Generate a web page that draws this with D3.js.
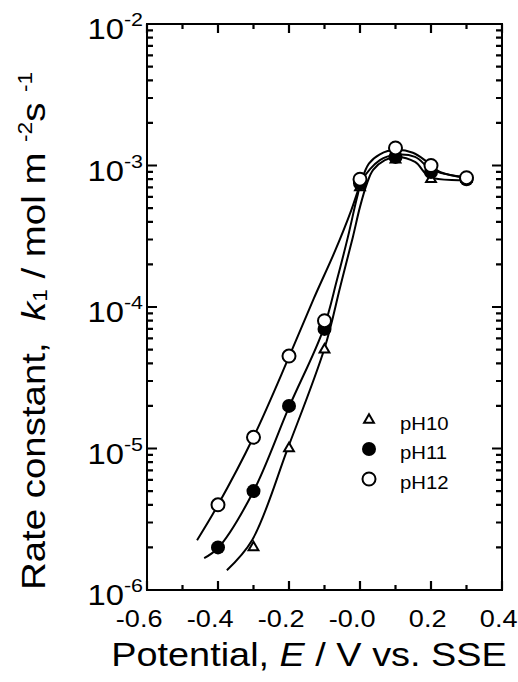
<!DOCTYPE html>
<html>
<head>
<meta charset="utf-8">
<script src="https://cdn.jsdelivr.net/npm/d3@7"></script>
<style>
body { margin: 0; background: #fff; }
text { font-family: "Liberation Sans", Arial, sans-serif; fill: #000; }
</style>
</head>
<body>
<div id="chart"></div>
<script>
// tick values / labels
const xMajor = [-0.6, -0.4, -0.2, 0.0, 0.2, 0.4];
const xMinor = [-0.5, -0.3, -0.1, 0.1, 0.3];
const xLabels = ["-0.6", "-0.4", "-0.2", "-0.0", "0.2", "0.4"];
const yMajor = [1e-6, 1e-5, 1e-4, 1e-3, 1e-2];
const yExp = ["-6", "-5", "-4", "-3", "-2"];

// measured points
const pH10x = [-0.3, -0.2, -0.1, 0.0, 0.1, 0.2, 0.3];
const pH10y = [2e-6, 1e-5, 5e-5, 7e-4, 1.1e-3, 8e-4, 8e-4];
const pH11x = [-0.4, -0.3, -0.2, -0.1, 0.0, 0.1, 0.2, 0.3];
const pH11y = [2e-6, 5e-6, 2e-5, 7e-5, 7.5e-4, 1.15e-3, 9e-4, 8e-4];
const pH12x = [-0.4, -0.3, -0.2, -0.1, 0.0, 0.1, 0.2, 0.3];
const pH12y = [4e-6, 1.2e-5, 4.5e-5, 8e-5, 8e-4, 1.33e-3, 1e-3, 8.2e-4];

// fitted curves
const fit10x = [-0.375, -0.304, -0.203, -0.099, -0.056, -0.02, 0.0, 0.02, 0.037, 0.07, 0.104, 0.155, 0.197, 0.3];
const fit10y = [1.38e-6, 2.25e-6, 1.01e-5, 5.2e-5, 1.38e-4, 3.13e-4, 5.1e-4, 7.5e-4, 9.3e-4, 1.09e-3, 1.15e-3, 1.06e-3, 8.3e-4, 7.9e-4];
const fit11x = [-0.439, -0.4, -0.301, -0.2, -0.104, -0.065, -0.034, -0.008, 0.006, 0.056, 0.101, 0.155, 0.203, 0.3];
const fit11y = [1.68e-6, 1.98e-6, 4.93e-6, 1.96e-5, 6.87e-5, 1.55e-4, 3.13e-4, 5.98e-4, 7.9e-4, 1.09e-3, 1.19e-3, 1.15e-3, 9.3e-4, 8.2e-4];
const fit12x = [-0.459, -0.403, -0.301, -0.2, -0.13, -0.07, -0.025, 0.0, 0.025, 0.056, 0.101, 0.149, 0.189, 0.225, 0.3];
const fit12y = [2.25e-6, 3.87e-6, 1.19e-5, 4.44e-5, 1.15e-4, 2.5e-4, 4.8e-4, 7.3e-4, 1.03e-3, 1.2e-3, 1.29e-3, 1.23e-3, 1.06e-3, 9e-4, 8.2e-4];

const legendNames = ["pH10", "pH11", "pH12"];

// text in the original is a bit wider than Liberation Sans
const S = 1.13;

let width = 518, height = 682;
let margin = {top: 24, right: 16, bottom: 92, left: 147};

let svg = d3.select("#chart").append("svg")
    .attr("width", width)
    .attr("height", height);

let x = d3.scaleLinear()
    .domain([-0.6, 0.4])
    .range([margin.left, width - margin.right]);
let y = d3.scaleLog()
    .domain([1e-6, 1e-2])
    .range([height - margin.bottom, margin.top]);

let yMinor = y.ticks().filter(d => Math.abs(Math.log10(d) - Math.round(Math.log10(d))) > 1e-6);

function zip(xs, ys) {
    return xs.map((v, i) => ({x: v, y: ys[i]}));
}

let bottomY = y.range()[0], topY = y.range()[1];
let leftX = x.range()[0], rightX = x.range()[1];

// x tick labels from the axis generator
let xAxisG = svg.append("g")
    .attr("transform", "translate(0," + bottomY + ")")
    .call(d3.axisBottom(x).tickValues(xMajor).tickSize(0).tickPadding(20)
        .tickFormat((d, i) => xLabels[i]));
xAxisG.select(".domain").remove();
xAxisG.attr("font-family", null).attr("font-size", null);
xAxisG.selectAll(".tick text")
    .attr("font-size", 24)
    .attr("fill", "#000")
    .attr("text-anchor", "end")
    .attr("x", 15 / S)
    .attr("transform", "scale(" + S + ",1)");

// y tick labels 10^n
let yl = svg.append("g").selectAll("text")
    .data(yMajor)
    .enter().append("text")
    .attr("text-anchor", "end")
    .attr("transform", d => "translate(143," + (y(d) + 15) + ") scale(" + S + ",1)");
yl.append("tspan").attr("font-size", 29).text("10");
yl.append("tspan").attr("font-size", 19).attr("dy", -13).text((d, i) => yExp[i]);

// axis titles
let xt = svg.append("text")
    .attr("text-anchor", "middle")
    .attr("font-size", 33.5)
    .attr("transform", "translate(309,666) scale(" + S + ",1)");
xt.append("tspan").text("Potential, ");
xt.append("tspan").attr("font-style", "italic").text("E");
xt.append("tspan").text(" / V vs. SSE");

let yt = svg.append("text")
    .attr("text-anchor", "start")
    .attr("font-size", 34)
    .attr("transform", "translate(45,590) rotate(-90) scale(" + S + ",1)");
yt.append("tspan").text("Rate constant,\u00a0 ");
yt.append("tspan").attr("font-style", "italic").text("k");
yt.append("tspan").attr("font-size", 20).attr("dy", 2).text("1");
yt.append("tspan").attr("dy", -2).text(" / mol m ");
yt.append("tspan").attr("font-size", 20).attr("dy", -13).text("-2");
yt.append("tspan").attr("dy", 13).text("s ");
yt.append("tspan").attr("font-size", 20).attr("dy", -13).text("-1");

// fitted curves
let line = d3.line()
    .x(d => x(d.x))
    .y(d => y(d.y))
    .curve(d3.curveCatmullRom.alpha(0.5));

[zip(fit10x, fit10y), zip(fit11x, fit11y), zip(fit12x, fit12y)].forEach(function (c) {
    svg.append("path")
        .datum(c)
        .attr("d", line)
        .attr("fill", "none")
        .attr("stroke", "#000")
        .attr("stroke-width", 2);
});

// markers
let tri = d3.symbol().type(d3.symbolTriangle).size(42);

let pts = svg.append("g");
pts.selectAll(".tri")
    .data(zip(pH10x, pH10y))
    .enter().append("path")
    .attr("class", "tri")
    .attr("d", tri)
    .attr("transform", d => "translate(" + x(d.x) + "," + y(d.y) + ")")
    .attr("fill", "#fff")
    .attr("stroke", "#000")
    .attr("stroke-width", 2);

pts.selectAll(".filled")
    .data(zip(pH11x, pH11y))
    .enter().append("circle")
    .attr("class", "filled")
    .attr("cx", d => x(d.x))
    .attr("cy", d => y(d.y))
    .attr("r", 7)
    .attr("fill", "#000");

pts.selectAll(".open")
    .data(zip(pH12x, pH12y))
    .enter().append("circle")
    .attr("class", "open")
    .attr("cx", d => x(d.x))
    .attr("cy", d => y(d.y))
    .attr("r", 6.5)
    .attr("fill", "#fff")
    .attr("stroke", "#000")
    .attr("stroke-width", 2);

// legend
let lg = svg.append("g");
let legY = [420, 449, 479];
lg.append("path")
    .attr("d", tri)
    .attr("transform", "translate(369," + legY[0] + ")")
    .attr("fill", "#fff").attr("stroke", "#000").attr("stroke-width", 2);
lg.append("circle")
    .attr("cx", 369).attr("cy", legY[1]).attr("r", 7).attr("fill", "#000");
lg.append("circle")
    .attr("cx", 369).attr("cy", legY[2]).attr("r", 6.5)
    .attr("fill", "#fff").attr("stroke", "#000").attr("stroke-width", 2);
lg.selectAll("text")
    .data(legendNames)
    .enter().append("text")
    .attr("font-size", 18)
    .attr("transform", (d, i) => "translate(400," + (legY[i] + 10) + ") scale(" + S + ",1)")
    .text(d => d);

// inward ticks on all four sides, one path built from the scales
let tickPath = "";
[[xMajor, 9], [xMinor, 5]].forEach(function (p) {
    p[0].forEach(function (v) {
        tickPath += "M" + x(v) + "," + bottomY + "v" + (-p[1]);
        tickPath += "M" + x(v) + "," + topY + "v" + p[1];
    });
});
[[yMajor, 10], [yMinor, 6]].forEach(function (p) {
    p[0].forEach(function (v) {
        tickPath += "M" + leftX + "," + y(v) + "h" + p[1];
        tickPath += "M" + rightX + "," + y(v) + "h" + (-p[1]);
    });
});
svg.append("path")
    .attr("d", tickPath)
    .attr("fill", "none")
    .attr("stroke", "#000")
    .attr("stroke-width", 2.2);

// frame
svg.append("rect")
    .attr("x", leftX)
    .attr("y", topY)
    .attr("width", rightX - leftX)
    .attr("height", bottomY - topY)
    .attr("fill", "none")
    .attr("stroke", "#000")
    .attr("stroke-width", 2);
</script>
</body>
</html>
